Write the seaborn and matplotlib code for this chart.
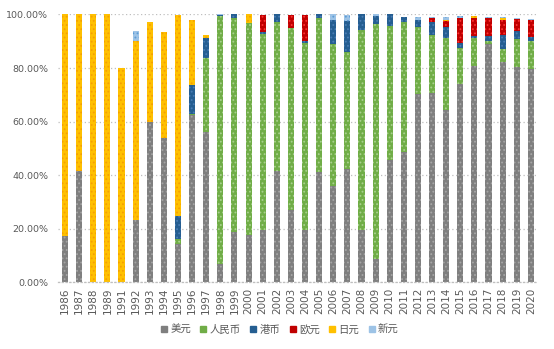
import matplotlib
matplotlib.use("Agg")
import matplotlib.pyplot as plt
from matplotlib.ticker import FuncFormatter
from matplotlib.lines import Line2D
import numpy as np
import pandas as pd
import seaborn as sns

years = ["1986", "1987", "1988", "1989", "1991", "1992", "1993", "1994", "1995", "1996",
         "1997", "1998", "1999", "2000", "2001", "2002", "2003", "2004", "2005", "2006",
         "2007", "2008", "2009", "2010", "2011", "2012", "2013", "2014", "2015", "2016",
         "2017", "2018", "2019", "2020"]

usd = [17.4, 41.7, 0, 0, 0, 23.3, 60.0, 53.9, 14.4, 62.5,
       56.3, 6.7, 18.7, 17.7, 19.4, 41.6, 27.0, 19.4, 41.1, 36.0,
       42.3, 19.5, 8.7, 45.7, 48.8, 70.2, 70.8, 64.2, 74.2, 80.9,
       88.9, 82.4, 80.5, 79.7]
rmb = [0, 0, 0, 0, 0, 0, 0, 0, 1.6, 0.5,
       27.6, 92.9, 80.1, 79.3, 73.3, 55.7, 68.1, 69.8, 57.7, 52.9,
       43.8, 74.7, 87.6, 50.1, 48.5, 25.3, 21.5, 26.9, 13.2, 10.2,
       1.2, 4.7, 10.4, 10.5]
hkd = [0, 0, 0, 0, 0, 0, 0, 0, 8.7, 10.7,
       7.2, 0.2, 1.2, 0, 0.8, 2.7, 0, 0.9, 1.2, 9.0,
       11.5, 5.8, 3.2, 4.2, 1.9, 2.4, 4.8, 4.1, 1.8, 1.0,
       1.7, 5.2, 2.9, 1.5]
eur = [0, 0, 0, 0, 0, 0, 0, 0, 0, 0,
       0, 0, 0, 0, 6.3, 0, 4.7, 9.7, 0, 0,
       0, 0, 0, 0, 0, 0, 1.7, 2.5, 9.6, 6.7,
       6.8, 5.6, 4.5, 6.2]
jpy = [82.6, 58.3, 100, 100, 80.0, 66.8, 37.3, 39.4, 75.2, 24.2,
       1.2, 0, 0, 3.0, 0, 0, 0, 0, 0, 0,
       0, 0, 0, 0, 0, 0, 0, 0.3, 0, 0.6,
       0, 0.7, 0, 0]
sgd = [0, 0, 0, 0, 0, 3.7, 0, 0, 0, 0,
       0, 0.2, 0, 0, 0, 0, 0, 0, 0, 2.1,
       2.2, 0, 0.5, 0, 0, 1.3, 0.4, 0.9, 0.6, 0,
       0.6, 0.5, 0.4, 0.5]

series_names = ["美元", "人民币", "港币", "欧元", "日元", "新元"]
series_vals = [usd, rmb, hkd, eur, jpy, sgd]
face_colors = ["#7F7F7F", "#70AD47", "#255E91", "#C00000", "#FFC000", "#9DC3E6"]
hatch_colors = ["#A6A6A6", "#A9D18E", "#4A7DB5", "#FF3333", "#F5A000", "#5B9BD5"]

fig = plt.figure(figsize=(5.54, 3.49), dpi=100)
ax = fig.add_axes([0.1047, 0.191, 0.8663, 0.7675])
sns.set_style("white")
plt.rcParams['font.family'] = ['Liberation Sans', 'Noto Sans CJK SC', 'DejaVu Sans']
plt.rcParams['hatch.linewidth'] = 0.8

arr = np.array(series_vals, dtype=float)
cum = np.cumsum(arr, axis=0)
df = pd.DataFrame({"year": years})
for i, name in enumerate(series_names):
    df[name] = cum[i]

for i in range(len(series_names) - 1, -1, -1):
    sns.barplot(data=df, x="year", y=series_names[i], order=years,
                color=face_colors[i], saturation=1, width=0.43, ax=ax,
                edgecolor=hatch_colors[i], linewidth=0, hatch="....")

ax.set_ylim(0, 100)
ax.set_xlim(-0.5, len(years) - 0.5)
ax.yaxis.set_major_formatter(FuncFormatter(lambda v, p: f"{v:.2f}%"))
ax.set_yticks([0, 20, 40, 60, 80, 100])
ax.grid(axis="y", color="#BFBFBF", linestyle=(0, (1, 2)), linewidth=0.9)
ax.set_axisbelow(True)
for s in ["top", "right", "left"]:
    ax.spines[s].set_visible(False)
ax.spines["bottom"].set_color("#BFBFBF")
ax.spines["bottom"].set_linestyle((0, (1, 2)))
ax.spines["bottom"].set_linewidth(0.9)
ax.set_xlabel("")
ax.set_ylabel("")
ax.tick_params(axis="y", labelsize=6.8, colors="#595959", length=0, pad=7)
ax.tick_params(axis="x", labelsize=7.5, colors="#595959", length=0, rotation=90, pad=4)

handles = [Line2D([0], [0], marker="s", linestyle="none", markersize=4.5,
                  markerfacecolor=face_colors[i], markeredgecolor=face_colors[i])
           for i in range(len(series_names))]
fig.legend(handles, series_names, loc="center", bbox_to_anchor=(0.505, 0.055), ncol=6,
           frameon=False, fontsize=7.5, handlelength=0.6, handletextpad=0.3,
           columnspacing=0.9, labelcolor="#595959")

fig.savefig("out.png", dpi=100)
